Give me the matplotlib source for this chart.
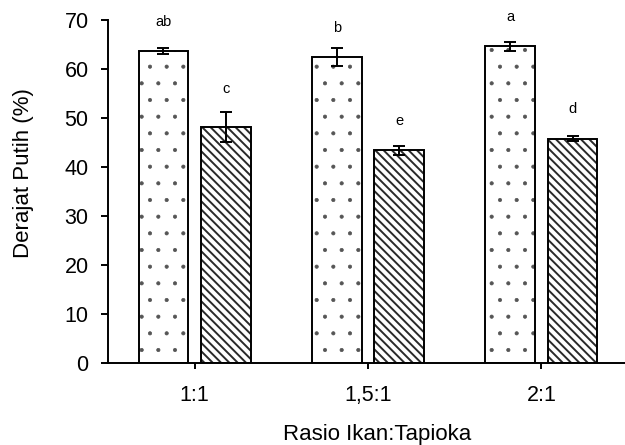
import numpy as np
import matplotlib
matplotlib.use("Agg")
import matplotlib.pyplot as plt

# data
categories = ["1:1", "1,5:1", "2:1"]
series_a = [63.7, 62.5, 64.6]      # dotted bars
err_a = [0.65, 1.85, 1.0]
series_b = [48.2, 43.4, 45.8]      # hatched bars
err_b = [3.0, 0.85, 0.5]
letters_a = ["ab", "b", "a"]
letters_b = ["c", "e", "d"]

# letter gap above the error bar (points), as placed in the original
gap_a = [15.5, 11, 14.5]
gap_b = [13.5, 15, 16.5]

plt.rcParams['font.family'] = ['Liberation Sans', 'DejaVu Sans']

fig = plt.figure(figsize=(6.25, 4.45), dpi=100)
ax = fig.add_axes([108 / 625, 82 / 445, 520 / 625, 343 / 445])

x = np.arange(len(categories))
w = 0.285
off = 0.18

# pattern layer (gray dots / dark lines), then the black outline on top
with plt.rc_context({'hatch.linewidth': 0.5}):
    ax.bar(x - off, series_a, w, facecolor='white', edgecolor='#555555',
           linewidth=0, hatch='.', zorder=2)
with plt.rc_context({'hatch.linewidth': 1.4}):
    ax.bar(x + off, series_b, w, facecolor='white', edgecolor='#2a2a2a',
           linewidth=0, hatch='\\\\\\\\', zorder=2)
ax.bar(x - off, series_a, w, facecolor='none', edgecolor='black', linewidth=1.4, zorder=2.5)
ax.bar(x + off, series_b, w, facecolor='none', edgecolor='black', linewidth=1.4, zorder=2.5)

ax.errorbar(x - off, series_a, yerr=err_a, fmt='none', ecolor='black',
            elinewidth=1.4, capsize=4.5, capthick=1.4, zorder=3)
ax.errorbar(x + off, series_b, yerr=err_b, fmt='none', ecolor='black',
            elinewidth=1.4, capsize=4.5, capthick=1.4, zorder=3)

for xi, v, e, t, g in zip(x - off, series_a, err_a, letters_a, gap_a):
    ax.annotate(t, (xi, v + e), xytext=(0, g), textcoords='offset points',
                ha='center', va='baseline', fontsize=10.5)
for xi, v, e, t, g in zip(x + off, series_b, err_b, letters_b, gap_b):
    ax.annotate(t, (xi, v + e), xytext=(0, g), textcoords='offset points',
                ha='center', va='baseline', fontsize=10.5)

ax.set_xlim(-0.5, 2.5)
ax.set_ylim(0, 70)
ax.set_yticks(range(0, 71, 10))
ax.set_xticks(x)
ax.set_xticklabels(categories)

for s in ['top', 'right']:
    ax.spines[s].set_visible(False)
for s in ['left', 'bottom']:
    ax.spines[s].set_linewidth(1.4)

ax.tick_params(axis='y', direction='out', length=5, width=1.4, pad=9, labelsize=15.5)
ax.tick_params(axis='x', direction='out', length=4, width=1.4, pad=12, labelsize=15.5)

ax.set_ylabel("Derajat Putih (%)", fontsize=16)
ax.set_xlabel("Rasio Ikan:Tapioka", fontsize=16)
ax.yaxis.set_label_coords(-0.142, 0.555)
ax.xaxis.set_label_coords(0.518, -0.177)

fig.savefig("out.png", dpi=100)
